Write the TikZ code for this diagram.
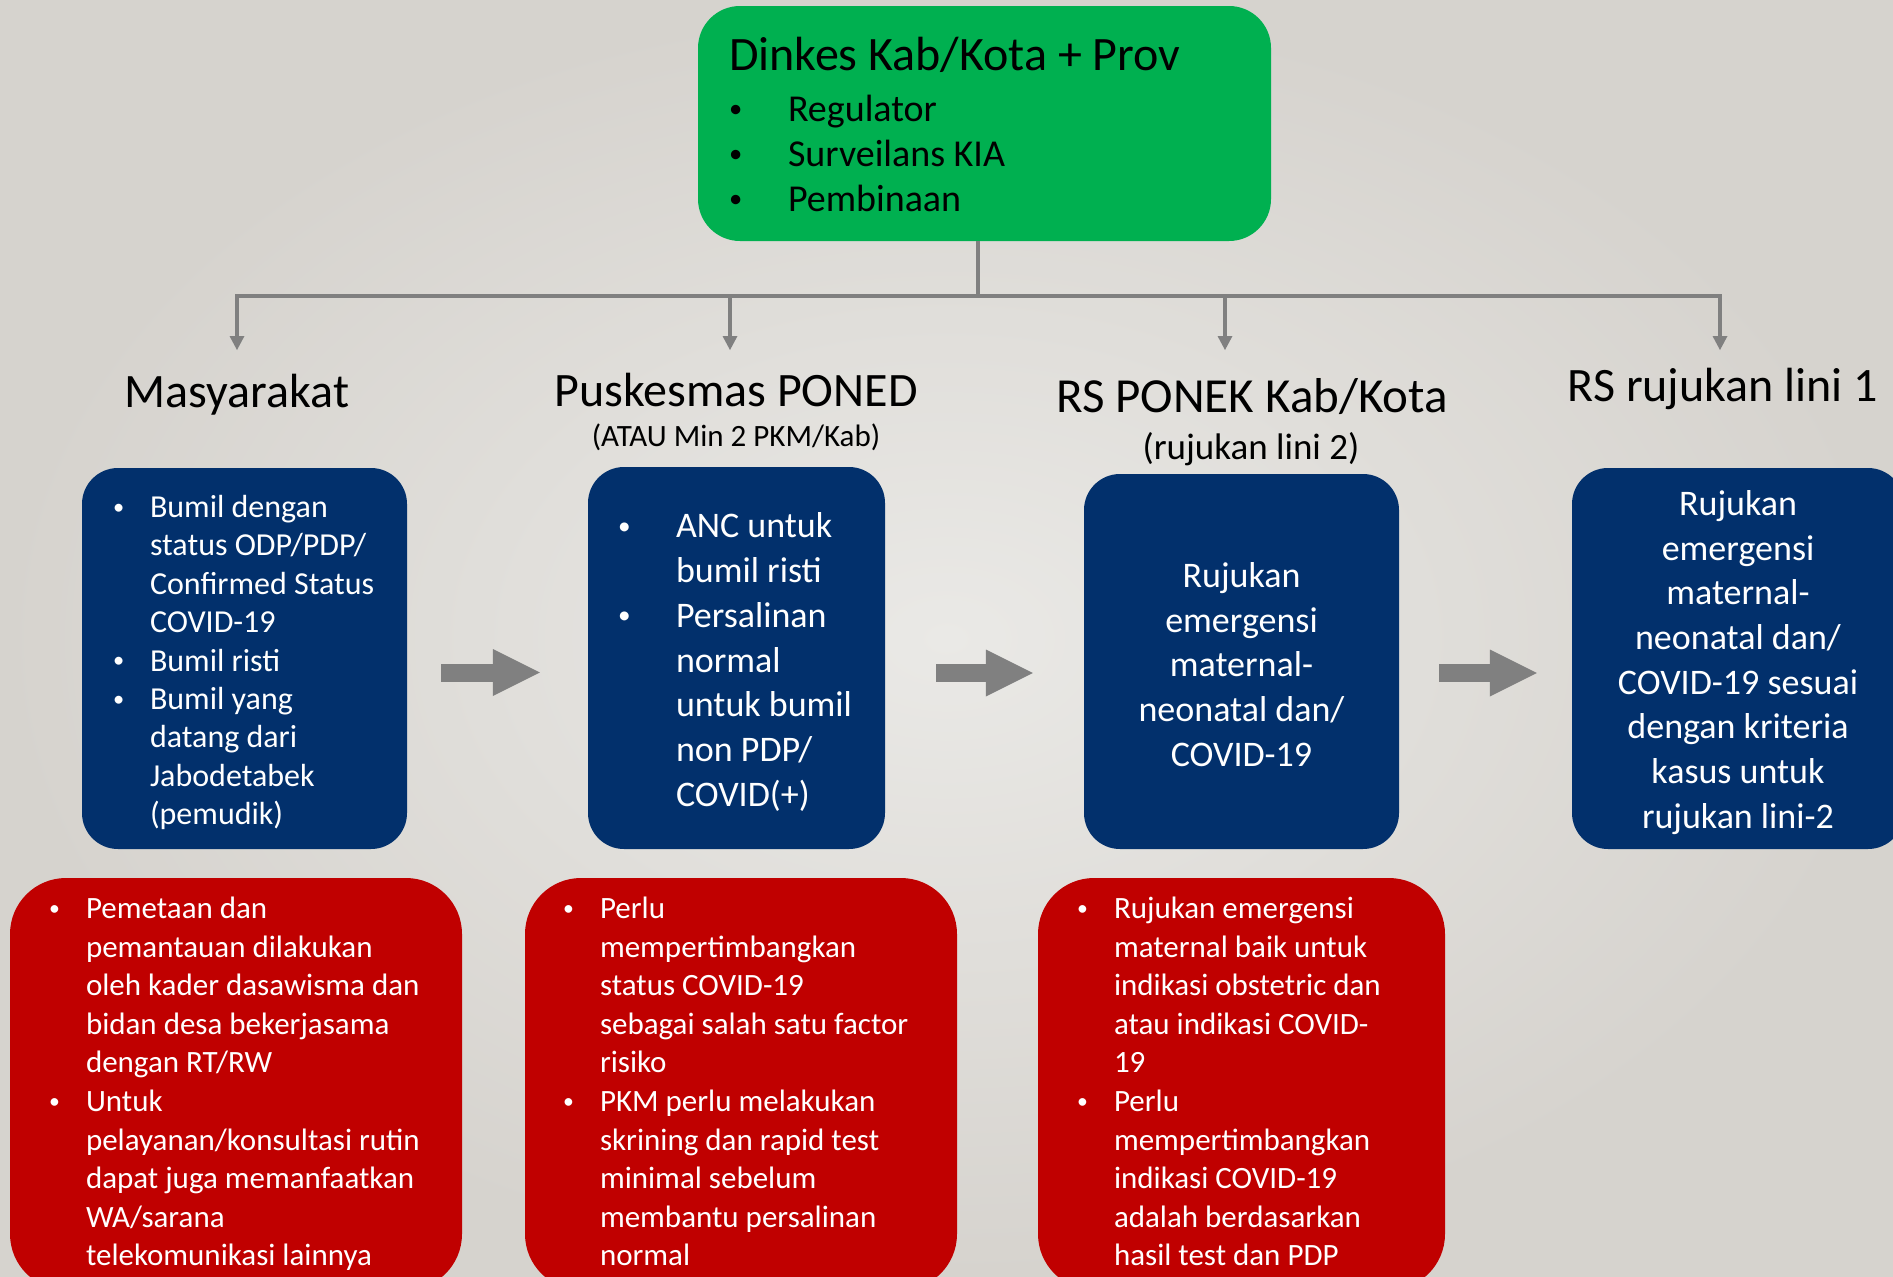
\documentclass[tikz,border=0pt]{standalone}
\usepackage{fontspec}
\usepackage{graphicx}
\setmainfont{Carlito}
\usetikzlibrary{arrows.meta,calc}
\definecolor{dkgreen}{HTML}{00B050}
\definecolor{dknavy}{HTML}{02306C}
\definecolor{dkred}{HTML}{C00000}
\definecolor{linegray}{HTML}{808080}
\definecolor{bgin}{HTML}{EAE9E6}
\definecolor{bgout}{HTML}{D6D3CE}

\newcommand{\bul}[1]{\makebox[#1][l]{\raisebox{0.1em}{\scalebox{0.7}{\textbullet}}}}
\newcommand{\ind}[1]{\hspace*{#1}}

\begin{document}
\begin{tikzpicture}[
  x=1pt, y=-1pt,
  gbox/.style  = {fill=dkgreen, rounded corners=42pt, minimum width=573pt, minimum height=235pt},
  bbox/.style  = {fill=dknavy, rounded corners=36pt},
  rbox/.style  = {fill=dkred, rounded corners=56pt, minimum height=412pt},
  head/.style  = {font=\fontsize{48}{52}\selectfont, text=black, inner sep=0pt},
  sub/.style   = {font=\fontsize{37}{40}\selectfont, text=black, inner sep=0pt},
  txt/.style   = {text=white, align=left, inner sep=0pt},
  ctxt/.style  = {text=white, align=center, inner sep=0pt, font=\fontsize{36}{44.7}\selectfont},
  rtxt/.style  = {txt, anchor=north west, font=\fontsize{31}{38.6}\selectfont},
  tree/.style  = {draw=linegray, line width=3.6pt},
  drop/.style  = {tree, -{Triangle[length=14pt, width=15pt, line width=0pt]}},
  flow/.style  = {draw=linegray, line width=18pt, -{Triangle[length=47pt, width=47pt, line width=0pt]}},
]
\useasboundingbox (0,0) rectangle (1893,1277);
\shade[inner color=bgin, outer color=bgout] (0,0) rectangle (1893,1277);
\clip (0,0) rectangle (1893,1277);

% --- top: dinas kesehatan ------------------------------------------------------------------------
\node[gbox] (dinkes) at (984.5,123.5) {};
\node[txt, text=black, anchor=north west, font=\fontsize{38}{45}\selectfont] (dinkes-t)
  at ([xshift=31pt, yshift=-31pt]dinkes.north west)
  {{\fontsize{48}{45}\selectfont Dinkes Kab/Kota + Prov}\\[6pt]
   \bul{59pt}Regulator\\
   \bul{59pt}Surveilans KIA\\
   \bul{59pt}Pembinaan};

% --- the four levels -----------------------------------------------------------------------------
\node[head] (masy)  at (237,395)  {Masyarakat};
\node[head] (pusk)  at (736,390)  {Puskesmas PONED};
\node[sub, font=\fontsize{31}{34}\selectfont] (pusk-s) at (736,437) {(ATAU Min 2 PKM/Kab)};
\node[head, font=\fontsize{49}{52}\selectfont] (ponek) at (1252,397) {RS PONEK Kab/Kota};
\node[sub] (ponek-s) at (1251,449) {(rujukan lini 2)};
\node[head] (lini1) at (1723,389) {RS rujukan lini 1};

% --- tree from the top box -----------------------------------------------------------------------
\coordinate (bus) at (978,296);
\foreach \n/\x in {1/237, 2/730, 3/1225, 4/1720}
  \coordinate (tip\n) at (\x,350);
\draw[tree] (dinkes.south -| bus) -- (bus);
\draw[drop] (bus) -| (tip1);
\draw[drop] (bus) -| (tip4);
\draw[drop] (bus -| tip2) -- (tip2);
\draw[drop] (bus -| tip3) -- (tip3);

% --- blue boxes ----------------------------------------------------------------------------------
\node[bbox, minimum width=325pt, minimum height=381pt] (b1) at (244.5,658.5) {};
\node[txt, anchor=west, font=\fontsize{32}{38.4}\selectfont] (b1-t) at ([xshift=31pt, yshift=-4pt]b1.west)
  {\bul{37pt}Bumil dengan\\
   \ind{37pt}status ODP/PDP/\\
   \ind{37pt}Confirmed Status\\
   \ind{37pt}COVID-19\\
   \bul{37pt}Bumil risti\\
   \bul{37pt}Bumil yang\\
   \ind{37pt}datang dari\\
   \ind{37pt}Jabodetabek\\
   \ind{37pt}(pemudik)};

\node[bbox, minimum width=297pt, minimum height=382pt] (b2) at (736.5,658) {};
\node[txt, anchor=west, font=\fontsize{36}{44.7}\selectfont] (b2-t) at ([xshift=30pt, yshift=-4pt]b2.west)
  {\bul{58pt}ANC untuk\\
   \ind{58pt}bumil risti\\
   \bul{58pt}Persalinan\\
   \ind{58pt}normal\\
   \ind{58pt}untuk bumil\\
   \ind{58pt}non PDP/\\
   \ind{58pt}COVID(+)};

\node[bbox, minimum width=315pt, minimum height=375pt] (b3) at (1241.5,661.5) {};
\node[ctxt] (b3-t) at ([yshift=-3pt]b3.center)
  {Rujukan\\emergensi\\maternal-\\neonatal dan/\\COVID-19};

\node[bbox, minimum width=332pt, minimum height=381pt] (b4) at (1738,658.5) {};
\node[ctxt] (b4-t) at ([yshift=-4pt]b4.center)
  {Rujukan\\emergensi\\maternal-\\neonatal dan/\\COVID-19 sesuai\\dengan kriteria\\kasus untuk\\rujukan lini-2};

% --- block arrows between the levels -------------------------------------------------------------
\path ([yshift=-14pt]b1.east) coordinate (f1)
      ([yshift=-15pt]b2.east) coordinate (f2)
      ([yshift=-11.5pt]b3.east) coordinate (f3);
\draw[flow, shorten <=34pt, shorten >=48pt] (f1) -- (f1 -| b2.west);
\draw[flow, shorten <=51pt, shorten >=51pt] (f2) -- (f2 -| b3.west);
\draw[flow, shorten <=40pt, shorten >=35pt] (f3) -- (f3 -| b4.west);

% --- red boxes -----------------------------------------------------------------------------------
\node[rbox, minimum width=452pt] (r1) at (236,1084) {};
\node[rtxt] (r1-t) at ([xshift=39pt, yshift=-19pt]r1.north west)
  {\bul{37pt}Pemetaan dan\\
   \ind{37pt}pemantauan dilakukan\\
   \ind{37pt}oleh kader dasawisma dan\\
   \ind{37pt}bidan desa bekerjasama\\
   \ind{37pt}dengan RT/RW\\
   \bul{37pt}Untuk\\
   \ind{37pt}pelayanan/konsultasi rutin\\
   \ind{37pt}dapat juga memanfaatkan\\
   \ind{37pt}WA/sarana\\
   \ind{37pt}telekomunikasi lainnya};

\node[rbox, minimum width=432pt] (r2) at (741,1084) {};
\node[rtxt] (r2-t) at ([xshift=38pt, yshift=-19pt]r2.north west)
  {\bul{37pt}Perlu\\
   \ind{37pt}mempertimbangkan\\
   \ind{37pt}status COVID-19\\
   \ind{37pt}sebagai salah satu factor\\
   \ind{37pt}risiko\\
   \bul{37pt}PKM perlu melakukan\\
   \ind{37pt}skrining dan rapid test\\
   \ind{37pt}minimal sebelum\\
   \ind{37pt}membantu persalinan\\
   \ind{37pt}normal};

\node[rbox, minimum width=407pt] (r3) at (1241.5,1084) {};
\node[rtxt] (r3-t) at ([xshift=39pt, yshift=-19pt]r3.north west)
  {\bul{37pt}Rujukan emergensi\\
   \ind{37pt}maternal baik untuk\\
   \ind{37pt}indikasi obstetric dan\\
   \ind{37pt}atau indikasi COVID-\\
   \ind{37pt}19\\
   \bul{37pt}Perlu\\
   \ind{37pt}mempertimbangkan\\
   \ind{37pt}indikasi COVID-19\\
   \ind{37pt}adalah berdasarkan\\
   \ind{37pt}hasil test dan PDP};

\end{tikzpicture}
\end{document}
